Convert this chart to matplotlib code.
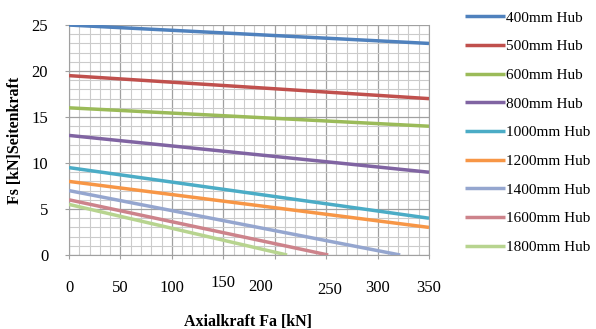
import numpy as np
import matplotlib.pyplot as plt
import matplotlib.transforms as mtransforms

# Hub lengths and the start / end points of each straight line
labels = ['400mm Hub', '500mm Hub', '600mm Hub', '800mm Hub', '1000mm Hub',
          '1200mm Hub', '1400mm Hub', '1600mm Hub', '1800mm Hub']
fa_start = [0, 0, 0, 0, 0, 0, 0, 0, 0]
fa_end = [350, 350, 350, 350, 350, 350, 322, 252, 212]
fs_start = [25.0, 19.5, 16.0, 13.0, 9.5, 8.0, 7.0, 6.0, 5.5]
fs_end = [23.0, 17.0, 14.0, 9.0, 4.0, 3.0, 0.0, 0.0, 0.0]
colors = ['#4F81BD', '#C0504D', '#9BBB59', '#8064A2', '#4BACC6',
          '#F79646', '#95A6CF', '#CD838B', '#B7D48F']

x_ticks = [0, 50, 100, 150, 200, 250, 300, 350]
y_ticks = [0, 5, 10, 15, 20, 25]

plt.rcParams['font.family'] = ['Liberation Serif', 'DejaVu Serif']

fig = plt.figure(figsize=(5.96, 3.29), dpi=100)
ax = fig.add_axes([0.1158, 0.2249, 0.604, 0.699])

for i in range(len(labels)):
    ax.plot([fa_start[i], fa_end[i]], [fs_start[i], fs_end[i]],
            color=colors[i], linewidth=2.5, label=labels[i],
            solid_capstyle='butt', zorder=3)

ax.set_xlim(0, 350)
ax.set_ylim(0, 25)
ax.set_xticks(x_ticks)
ax.set_yticks(y_ticks)
ax.set_xticks(np.arange(0, 351, 10), minor=True)
ax.set_yticks(np.arange(0, 26, 1), minor=True)
ax.grid(True, which='major', color='#A0A0A0', linewidth=0.9, zorder=1)
ax.grid(True, which='minor', color='#CBCBCB', linewidth=0.8, zorder=1)
ax.tick_params(which='minor', length=0)
ax.tick_params(which='major', length=3, color='#A0A0A0', labelsize=12)
ax.tick_params(axis='x', pad=15)
ax.tick_params(axis='y', pad=12)
for s in ax.spines.values():
    s.set_visible(False)
for side in ['left', 'bottom', 'right']:
    ax.spines[side].set_visible(True)
    ax.spines[side].set_color('#A0A0A0')

# the original scan has a few tick labels slightly out of place
shifts = {150: (0, 5), 200: (-14, 1), 250: (4, -2)}
for lab, val in zip(ax.get_xticklabels(), x_ticks):
    if val in shifts:
        dx, dy = shifts[val]
        lab.set_transform(lab.get_transform() +
                          mtransforms.ScaledTranslation(dx / 100, dy / 100, fig.dpi_scale_trans))

fig.text(248 / 596, 1 - 322 / 329, 'Axialkraft Fa [kN]', fontsize=11.5,
         fontweight='bold', ha='center', va='center')
fig.text(15 / 596, 1 - 140 / 329, 'Fs [kN]Seitenkraft', fontsize=11.5,
         fontweight='bold', ha='center', va='center', rotation=90)

fig.legend(loc='upper left', bbox_to_anchor=(0.77, 0.985), frameon=False,
           fontsize=11, handlelength=2.6, handletextpad=0.05,
           labelspacing=0.98, borderaxespad=0)

plt.savefig('out.png', dpi=100)
